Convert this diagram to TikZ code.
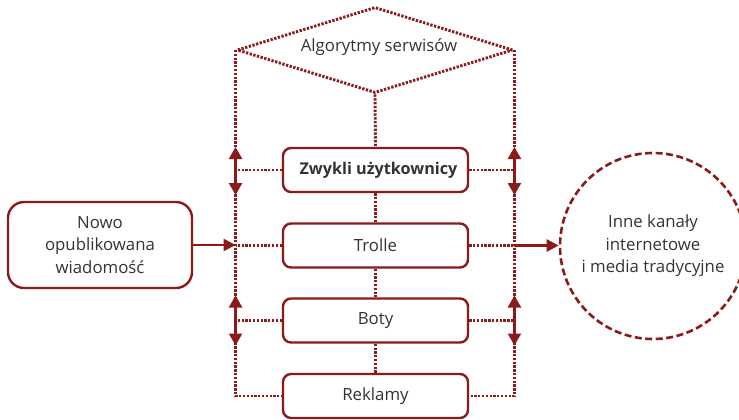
\documentclass[tikz,border=0pt]{standalone}
\usepackage{fontspec}
\setmainfont{Open Sans}
\usetikzlibrary{shapes.geometric,arrows.meta}
\definecolor{dred}{HTML}{8B1A1A}
\definecolor{txt}{HTML}{333333}
\tikzset{
  every node/.style={text=txt,font=\fontsize{16.8}{22.5}\selectfont},
  box/.style={draw=dred,line width=2.4pt,rounded corners=8pt,fill=white,minimum width=185pt,minimum height=44pt,inner sep=0pt},
  dots/.style={draw=dred,line width=2.9pt,dash pattern=on 2.3pt off 1.5pt},
  solidarr/.style={draw=dred,line width=2.4pt,-{Triangle[length=12pt,width=12pt]}},
  dblarr/.style={draw=dred,line width=2.4pt,{Triangle[length=12pt,width=13pt]}-{Triangle[length=12pt,width=13pt]}}
}
\begin{document}
\begin{tikzpicture}[x=1pt,y=-1pt]
\useasboundingbox (0,0) rectangle (739,420);
% diamond
\node[diamond,dots,minimum width=276pt,minimum height=86pt,aspect=3.2,inner sep=0pt] (alg) at (375,50) {};
\node at (379,47) {Algorytmy serwisów};
% boxes
\node[box,font=\fontsize{16.2}{20}\selectfont\bfseries] (zw) at (375.5,170) {\hspace*{6pt}Zwykli użytkownicy};
\node[box] (tr) at (375.5,245.5) {Trolle};
\node[box] (bo) at (375.5,320.5) {Boty};
\node[box] (re) at (375.5,396) {Reklamy};
\node[draw=dred,line width=2.4pt,rounded corners=16pt,minimum width=184pt,minimum height=86pt,align=center,inner sep=0pt] (nw) at (100,245) {Nowo\\opublikowana\\wiadomość};
\node[circle,draw=dred,line width=2.6pt,dash pattern=on 7pt off 3.5pt,minimum size=186pt,align=center,inner sep=0pt] (ik) at (653,246) {Inne kanały\\internetowe\\i media tradycyjne};
% coordinates
\coordinate (L) at (alg.west);
\coordinate (R) at (alg.east);
% side verticals
\draw[dots] (L) |- (re.west);
\draw[dots] (R) |- (re.east);
% center verticals
\draw[dots] (alg.south) -- (zw.north);
\draw[dots] (zw.south) -- (tr.north);
\draw[dots] (tr.south) -- (bo.north);
\draw[dots] (bo.south) -- (re.north);
% horizontals
\draw[dots] (zw.west) -- (zw.west -| L);
\draw[dots] (zw.east) -- (zw.east -| R);
\draw[dots] (bo.west) -- (bo.west -| L);
\draw[dots] (bo.east) -- (bo.east -| R);
\draw[dots] (tr.west) -- (tr.west -| L);
\draw[dots] (tr.east) -- (tr.east -| R);
% double arrows
\draw[dblarr] ([yshift=-25pt]zw.west -| L) -- ([yshift=23pt]zw.west -| L);
\draw[dblarr] ([yshift=-25pt]zw.east -| R) -- ([yshift=23pt]zw.east -| R);
\draw[dblarr] ([yshift=-25pt]bo.west -| L) -- ([yshift=25pt]bo.west -| L);
\draw[dblarr] ([yshift=-25pt]bo.east -| R) -- ([yshift=25pt]bo.east -| R);
% main arrows
\draw[solidarr] (nw.east) -- (nw.east -| L);
\draw[solidarr] (tr.east -| R) -- (tr.east -| ik.west);
\end{tikzpicture}
\end{document}
